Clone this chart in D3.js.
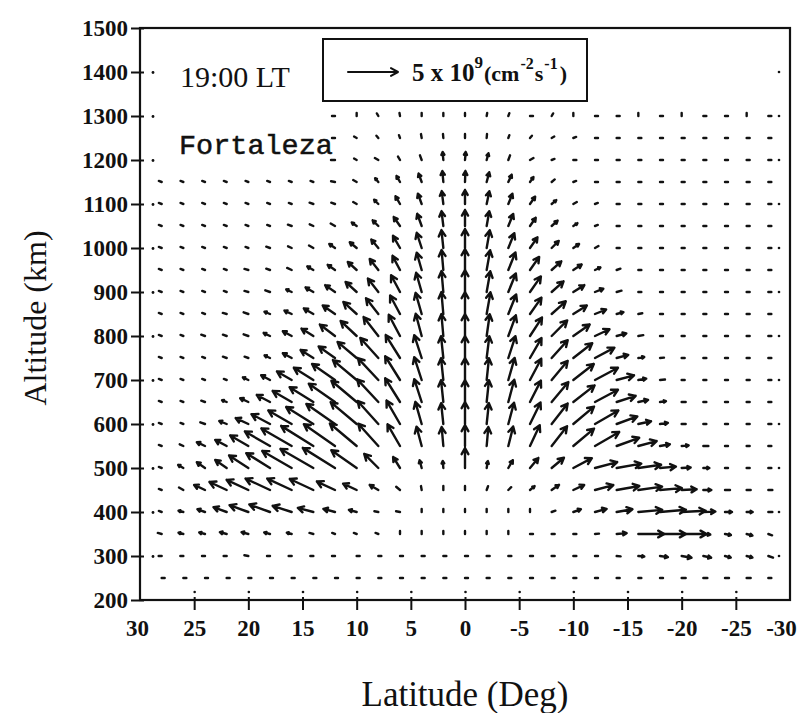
<!DOCTYPE html>
<html>
<head>
<meta charset="utf-8">
<title>Ion flux - Fortaleza 19:00 LT</title>
<script src="https://cdn.jsdelivr.net/npm/d3@7"></script>
<style>
  html, body { margin: 0; padding: 0; background: #fff; }
  svg { display: block; }
</style>
</head>
<body>
<div id="chart"></div>
<script>
// grid columns (latitude, deg) and rows (altitude, km)
const lats = [28, 26, 24, 22, 20, 18, 16, 14, 12, 10, 8, 6, 4, 2, 0, -2, -4, -6, -8, -10, -12, -14, -16, -18, -20, -22, -24, -26, -28];
const alts = [1300, 1250, 1200, 1150, 1100, 1050, 1000, 950, 900, 850, 800, 750, 700, 650, 600, 550, 500, 450, 400, 350, 300, 250];

// flux magnitude, units of 1e9 cm^-2 s^-1 (null = no vector under the label)
const fluxMag = [
  [null,null,null,null,null,null,null,null, 0.3,0.3,0.3,0.3,0.3,0.3,0.3,0.3,0.3,0.3,0.3,0.3,0.3,0.3,0.3,0.3,0.3,0.3,0.3,0.3,0.3],
  [null,null,null,null,null,null,null,null, 0.3,0.3,0.3,0.3,0.4,0.4,0.4,0.4,0.3,0.3,0.3,0.3,0.3,0.3,0.3,0.3,0.3,0.3,0.3,0.3,0.3],
  [null,null,null,null,null,null,null,null, 0.4,0.3,0.4,0.4,0.5,0.8,0.8,0.7,0.5,0.4,0.3,0.3,0.3,0.3,0.3,0.3,0.3,0.3,0.3,0.3,0.3],
  [0.3,0.3,0.3,0.3,0.3,0.3,0.3,0.3, 0.4,0.4,0.5,0.7,0.9,1.1,1.1,1.0,0.8,0.6,0.4,0.3,0.3,0.3,0.3,0.3,0.3,0.3,0.3,0.3,0.3],
  [0.3,0.3,0.3,0.3,0.3,0.3,0.3,0.4, 0.4,0.4,0.6,0.9,1.1,1.3,1.4,1.3,1.1,0.9,0.6,0.4,0.3,0.3,0.3,0.3,0.3,0.3,0.3,0.3,0.3],
  [0.3,0.3,0.3,0.3,0.3,0.3,0.4,0.4, 0.5,0.6,0.8,1.1,1.3,1.5,1.6,1.5,1.3,1.0,0.8,0.5,0.3,0.3,0.3,0.3,0.3,0.3,0.3,0.3,0.3],
  [0.3,0.3,0.3,0.3,0.3,0.4,0.4,0.5, 0.7,0.9,1.1,1.4,1.6,1.8,1.9,1.8,1.6,1.3,1.0,0.7,0.4,0.3,0.3,0.3,0.3,0.3,0.3,0.3,0.3],
  [0.3,0.3,0.3,0.3,0.4,0.4,0.5,0.7, 0.9,1.2,1.4,1.6,1.8,2.0,2.1,2.0,1.9,1.6,1.3,1.0,0.6,0.4,0.3,0.3,0.3,0.3,0.3,0.3,0.3],
  [0.3,0.3,0.3,0.3,0.4,0.5,0.6,0.9, 1.2,1.5,1.7,1.9,2.0,2.1,2.2,2.1,2.0,1.9,1.6,1.3,0.9,0.5,0.3,0.3,0.3,0.3,0.3,0.3,0.3],
  [0.3,0.3,0.3,0.4,0.5,0.6,0.8,1.1, 1.5,1.8,2.0,2.1,2.2,2.2,2.2,2.2,2.1,2.0,1.9,1.6,1.2,0.7,0.4,0.3,0.3,0.3,0.3,0.3,0.3],
  [0.3,0.3,0.4,0.4,0.5,0.7,1.0,1.4, 1.9,2.2,2.4,2.4,2.3,2.2,2.2,2.2,2.2,2.2,2.2,2.0,1.6,1.0,0.5,0.3,0.3,0.3,0.3,0.3,0.3],
  [0.3,0.3,0.3,0.4,0.4,0.6,1.0,1.5, 2.0,2.5,2.7,2.7,2.4,2.2,2.2,2.2,2.3,2.3,2.4,2.4,2.2,1.2,0.6,0.4,0.3,0.3,0.3,0.3,0.3],
  [0.3,0.3,0.3,0.3,0.6,1.0,1.7,2.3, 2.8,3.1,3.0,2.8,2.4,2.2,2.2,2.2,2.3,2.4,2.5,2.6,2.6,1.8,0.8,0.5,0.3,0.3,0.3,0.3,0.3],
  [0.3,0.3,0.4,0.5,0.9,1.5,2.2,2.8, 3.2,3.3,3.1,2.8,2.4,2.2,2.2,2.2,2.3,2.4,2.6,2.7,2.6,2.0,1.0,0.6,0.4,0.3,0.3,0.3,0.3],
  [0.3,0.3,0.5,0.8,1.4,2.1,2.7,3.2, 3.5,3.4,3.1,2.7,2.3,2.1,2.2,2.1,2.2,2.4,2.6,2.7,2.7,2.2,1.3,0.8,0.4,0.3,0.3,0.3,0.3],
  [0.3,0.4,0.9,1.3,2.1,2.9,3.5,3.8, 3.8,3.5,3.0,2.5,2.0,1.9,2.1,1.9,2.0,2.3,2.5,2.7,2.8,2.4,1.9,1.0,0.7,0.5,0.3,0.3,0.3],
  [0.3,0.6,1.0,1.4,2.3,2.8,3.4,3.8, 3.8,3.1,2.0,1.3,0.8,0.7,2.0,0.7,0.9,1.3,1.6,2.1,2.3,2.5,2.3,1.6,0.9,0.6,0.3,0.3,0.3],
  [0.3,0.5,1.2,1.9,2.4,2.7,2.7,2.6, 2.0,1.5,1.0,0.5,0.4,0.4,0.4,0.4,0.4,0.6,0.9,1.2,1.9,2.3,2.4,2.2,1.5,0.8,0.5,0.4,0.4],
  [0.3,0.5,0.8,1.4,2.0,2.2,2.0,1.6, 1.2,0.8,0.4,0.4,0.3,0.3,0.3,0.3,0.3,0.3,0.4,0.8,1.2,1.6,2.4,2.6,2.4,1.2,0.7,0.6,0.4],
  [0.4,0.5,0.6,0.7,0.7,0.6,0.5,0.4, 0.3,0.3,0.3,0.3,0.3,0.3,0.3,0.3,0.3,0.3,0.3,0.3,0.4,1.0,2.6,2.6,2.5,0.7,0.6,0.6,0.4],
  [0.3,0.3,0.3,0.3,0.4,0.3,0.3,0.3, 0.3,0.3,0.3,0.3,0.3,0.3,0.3,0.3,0.3,0.3,0.3,0.3,0.3,0.4,0.6,0.8,1.0,0.8,0.6,0.6,0.5],
  [0.3,0.3,0.3,0.3,0.3,0.3,0.3,0.3, 0.3,0.3,0.3,0.3,0.3,0.3,0.3,0.3,0.3,0.3,0.3,0.3,0.3,0.3,0.3,0.3,0.4,0.4,0.4,0.4,0.3]
];

// flux direction, degrees: 0 = southward (right), 90 = upward, 180 = northward (left)
const fluxDir = [
  [null,null,null,null,null,null,null,null, 180,90,120,100,90,90,90,80,70,0,60,90,0,0,90,0,90,0,0,90,0],
  [null,null,null,null,null,null,null,null, 180,150,130,110,100,95,90,85,70,50,30,20,0,0,0,0,0,0,0,0,0],
  [null,null,null,null,null,null,null,null, 180,150,150,120,110,95,85,75,70,30,20,0,0,0,0,0,0,0,0,0,0],
  [160,160,160,160,160,160,160,160, 170,150,130,120,110,95,88,75,65,55,40,20,0,0,0,0,0,0,0,0,0],
  [160,160,160,160,160,160,160,160, 160,150,135,120,110,97,90,78,68,55,40,30,20,0,0,0,0,0,0,0,0],
  [160,160,160,160,160,160,160,155, 150,145,135,125,110,97,90,80,68,55,42,35,20,0,0,0,0,0,0,0,0],
  [160,160,160,160,160,160,155,150, 145,140,130,120,108,96,90,80,68,55,45,35,30,0,0,0,0,0,0,0,0],
  [160,160,160,160,165,160,155,150, 145,138,128,118,106,95,90,80,68,55,42,33,25,20,0,0,0,0,0,0,0],
  [160,160,160,160,165,160,155,150, 145,138,128,118,106,95,90,80,68,55,42,32,22,15,0,0,0,0,0,0,0],
  [160,160,160,165,160,158,155,150, 145,138,128,118,106,95,90,80,68,55,42,32,22,15,10,0,0,0,0,0,0],
  [160,160,160,160,160,155,152,148, 143,137,128,118,105,95,90,82,70,57,45,35,25,15,10,0,0,0,0,0,0],
  [160,160,160,160,160,155,152,148, 145,140,132,122,108,96,90,83,72,60,48,38,28,15,10,5,0,0,0,0,0],
  [160,160,160,160,155,152,150,148, 145,140,133,122,108,96,90,84,74,62,50,38,28,15,10,5,0,0,0,0,0],
  [160,160,160,158,155,152,150,148, 145,140,133,122,108,96,90,84,75,63,50,38,28,18,12,8,0,0,0,0,0],
  [160,160,160,158,155,152,150,148, 145,140,132,120,106,96,90,84,75,64,52,40,30,20,12,8,0,0,0,0,0],
  [160,155,155,152,150,150,150,148, 145,140,132,120,105,95,90,85,76,65,52,40,30,20,15,10,5,0,0,0,0],
  [160,150,145,145,147,148,150,150, 148,145,135,122,105,95,90,80,60,50,40,28,15,10,8,5,3,0,0,0,0],
  [160,150,155,155,155,155,155,155, 155,155,150,140,100,90,90,70,45,40,35,25,15,10,8,5,3,0,0,0,0],
  [160,165,160,160,160,160,162,165, 165,165,170,170,90,90,90,90,90,90,20,20,15,10,5,5,3,2,0,0,0],
  [165,165,165,165,165,165,165,165, 160,160,160,90,90,90,90,90,90,0,0,0,5,5,0,0,0,-5,-10,-15,-20],
  [180,180,180,180,170,180,180,180, 180,0,0,0,0,0,0,0,0,0,0,0,0,-5,-5,-8,-10,-12,-15,-15,-20],
  [0,0,0,0,0,0,0,0, 0,0,0,0,0,0,0,0,0,0,0,0,0,0,0,0,0,0,0,0,0]
];

const xTicks = [30, 25, 20, 15, 10, 5, 0, -5, -10, -15, -20, -25, -30];
const yTicks = [200, 300, 400, 500, 600, 700, 800, 900, 1000, 1100, 1200, 1300, 1400, 1500];
const refFlux = 5; // legend arrow, 5 x 10^9

function arrowPath(x0, y0, dx, dy, headMax = 7) {
  const L = Math.hypot(dx, dy);
  const x1 = x0 + dx, y1 = y0 + dy;
  let p = `M${x0},${y0}L${x1},${y1}`;
  if (L > 5) {
    const h = Math.min(headMax, L * 0.4), t = Math.atan2(dy, dx), w = 0.5;
    p += `M${x1 - h * Math.cos(t - w)},${y1 - h * Math.sin(t - w)}L${x1},${y1}` +
         `L${x1 - h * Math.cos(t + w)},${y1 - h * Math.sin(t + w)}`;
  }
  return p;
}

function FluxChart() {
  const width = 803, height = 713;
  const box = { left: 140, right: 790, top: 28, bottom: 600 };
  const ink = "#111";

  const x = d3.scaleLinear().domain([30, -30]).range([box.left, box.right]);
  const y = d3.scaleLinear().domain([200, 1500]).range([box.bottom, box.top]);
  const len = d3.scaleLinear().domain([0, refFlux]).range([0, 50]);

  const svg = d3.select("#chart").append("svg")
    .attr("width", width)
    .attr("height", height);

  svg.append("rect").attr("width", width).attr("height", height).attr("fill", "#fff");

  // vectors, tail on the grid point
  const field = alts.flatMap((alt, r) => lats.map((lat, c) => ({
    lat, alt, m: fluxMag[r][c], dir: fluxDir[r][c]
  }))).filter(d => d.m != null);

  svg.append("g")
    .attr("fill", "none")
    .attr("stroke", ink)
    .attr("stroke-width", 2.4)
    .attr("stroke-linecap", "round")
    .attr("stroke-linejoin", "round")
    .selectAll("path")
    .data(field)
    .join("path")
      .attr("d", d => {
        const a = d.dir * Math.PI / 180;
        const u = d.m * Math.cos(a), v = d.m * Math.sin(a);
        return arrowPath(x(d.lat), y(d.alt), len(u), -len(v));
      });

  // frame
  svg.append("rect")
    .attr("x", box.left).attr("y", box.top)
    .attr("width", box.right - box.left).attr("height", box.bottom - box.top)
    .attr("fill", "none").attr("stroke", ink).attr("stroke-width", 2.2);

  // left axis
  const gy = svg.append("g")
    .attr("transform", `translate(${box.left},0)`)
    .call(d3.axisLeft(y).tickValues(yTicks).tickSize(9).tickPadding(3).tickFormat(d => String(d)));
  gy.select(".domain").remove();
  gy.selectAll(".tick line").attr("x1", 4).attr("x2", -9).attr("stroke", ink).attr("stroke-width", 2);
  gy.selectAll(".tick text")
    .attr("font-family", "'Liberation Serif', serif")
    .attr("font-weight", "bold")
    .attr("font-size", 23)
    .attr("fill", ink);
  gy.selectAll(".tick").filter(d => d > 200 && d < 1500)
    .append("circle").attr("cx", 13).attr("r", 1.4).attr("fill", ink);

  // bottom axis
  const gx = svg.append("g")
    .attr("transform", `translate(0,${box.bottom})`)
    .call(d3.axisBottom(x).tickValues(xTicks).tickSize(10).tickPadding(10).tickFormat(d => String(d)));
  gx.select(".domain").remove();
  gx.selectAll(".tick line").attr("y1", -3).attr("y2", 10).attr("stroke", ink).attr("stroke-width", 2)
    .filter(d => Math.abs(d) === 30).remove();
  gx.selectAll(".tick text")
    .attr("font-family", "'Liberation Serif', serif")
    .attr("font-weight", "bold")
    .attr("font-size", 23)
    .attr("fill", ink)
    .attr("dx", d => d === 30 ? -3 : d === -30 ? -9 : 0);
  gx.selectAll(".tick").filter(d => Math.abs(d) < 30)
    .append("circle").attr("cy", -8).attr("r", 1.3).attr("fill", ink);

  // right axis: inner tick dots only
  svg.append("g")
    .selectAll("circle")
    .data(yTicks.filter(d => d > 200 && d < 1500))
    .join("circle")
      .attr("cx", box.right - 11).attr("cy", d => y(d)).attr("r", 1.3).attr("fill", ink);

  // labels inside the plot
  svg.append("text")
    .attr("x", 180).attr("y", 87)
    .attr("font-family", "'Liberation Serif', serif")
    .attr("font-size", 30)
    .attr("fill", ink)
    .text("19:00 LT");

  svg.append("text")
    .attr("x", 179).attr("y", 154)
    .attr("font-family", "'Liberation Mono', monospace")
    .attr("font-size", 28.5)
    .attr("fill", ink)
    .attr("stroke", ink)
    .attr("stroke-width", 0.5)
    .text("Fortaleza");

  // legend box with the reference arrow
  svg.append("rect")
    .attr("x", 323).attr("y", 39).attr("width", 264).attr("height", 62)
    .attr("fill", "#fff").attr("stroke", ink).attr("stroke-width", 2);

  svg.append("path")
    .attr("d", arrowPath(348, 72, len(refFlux), 0, 8))
    .attr("fill", "none").attr("stroke", ink).attr("stroke-width", 2)
    .attr("stroke-linecap", "round").attr("stroke-linejoin", "round");

  const lt = svg.append("text")
    .attr("x", 412).attr("y", 81)
    .attr("font-family", "'Liberation Serif', serif")
    .attr("font-weight", "bold")
    .attr("font-size", 25)
    .attr("fill", ink);
  lt.append("tspan").text("5 x 10");
  lt.append("tspan").attr("font-size", 17).attr("dy", -13).text("9");
  lt.append("tspan").attr("font-size", 22).attr("dy", 13).attr("dx", 1).text("(cm");
  lt.append("tspan").attr("font-size", 16).attr("dy", -12).attr("dx", 1).text("-2");
  lt.append("tspan").attr("font-size", 22).attr("dy", 12).attr("dx", 1).text("s");
  lt.append("tspan").attr("font-size", 16).attr("dy", -12).attr("dx", 1).text("-1");
  lt.append("tspan").attr("font-size", 22).attr("dy", 12).attr("dx", 2).text(")");

  // axis titles
  svg.append("text")
    .attr("transform", `translate(46,${(box.top + box.bottom) / 2 + 4}) rotate(-90)`)
    .attr("text-anchor", "middle")
    .attr("font-family", "'Liberation Serif', serif")
    .attr("font-size", 32)
    .attr("fill", ink)
    .text("Altitude (km)");

  svg.append("text")
    .attr("x", 465).attr("y", 706)
    .attr("text-anchor", "middle")
    .attr("font-family", "'Liberation Serif', serif")
    .attr("font-size", 35)
    .attr("fill", ink)
    .text("Latitude (Deg)");

  return svg.node();
}

FluxChart();
</script>
</body>
</html>
